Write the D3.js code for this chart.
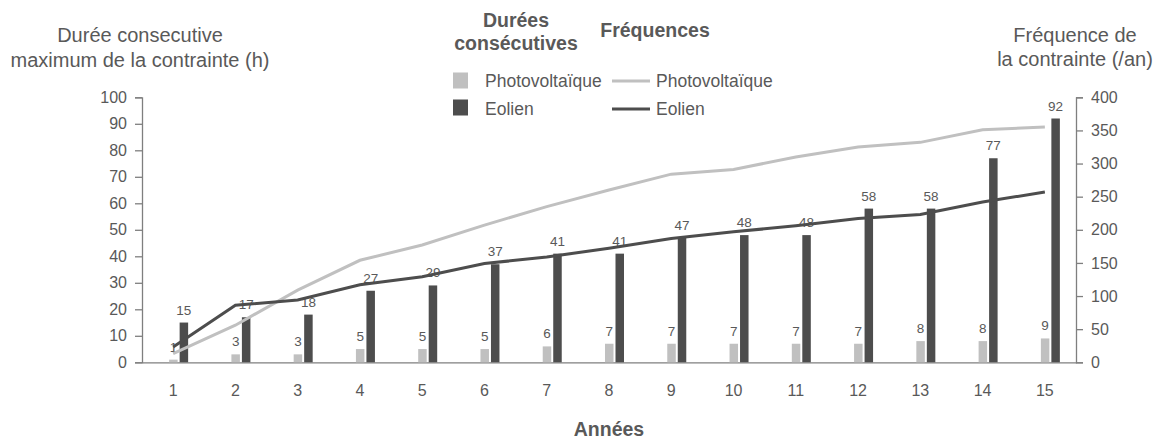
<!DOCTYPE html>
<html><head><meta charset="utf-8">
<script src="https://cdn.jsdelivr.net/npm/d3@7"></script>
<style>body{margin:0;background:#fff;} text{font-family:"Liberation Sans",Arial,sans-serif;}</style>
</head><body>
<svg id="c" width="1163" height="439"></svg>
<script>
const years = ["1","2","3","4","5","6","7","8","9","10","11","12","13","14","15"];
const dureePV = [1,3,3,5,5,5,6,7,7,7,7,7,8,8,9];
const dureeEol = [15,17,18,27,29,37,41,41,47,48,48,58,58,77,92];
const freqPV = [13,56,109,154,177,207,235,260,284,291,310,325,332,351,355];
const freqEol = [23,86,94,117,129,149,159,172,187,197,206,217,223,242,257];
const leftTicks = [0,10,20,30,40,50,60,70,80,90,100];
const rightTicks = [0,50,100,150,200,250,300,350,400];

const txt = "#595959", axisC = "#7f7f7f", dark = "#4d4d4d", light = "#c0c0c0";
const svg = d3.select("#c");
const L = 142, R = 1076, T = 97.3, B = 362.3;
const x = d3.scaleBand().domain(years).range([L, R]);
const yL = d3.scaleLinear().domain([0,100]).range([B, T]);
const yR = d3.scaleLinear().domain([0,400]).range([B, T]);
const c = d => x(d) + x.bandwidth()/2;
const FF = '"Liberation Sans",Arial,sans-serif';

// axes
const gl = svg.append("g").attr("transform", `translate(${L},0)`)
  .call(d3.axisLeft(yL).tickValues(leftTicks).tickSize(7).tickPadding(8));
const gr = svg.append("g").attr("transform", `translate(${R},0)`)
  .call(d3.axisRight(yR).tickValues(rightTicks).tickSize(7).tickPadding(8));
[gl, gr].forEach(g => {
  g.select(".domain").attr("stroke", axisC).attr("stroke-width", 1.3);
  g.selectAll(".tick line").attr("stroke", axisC).attr("stroke-width", 1.3);
  g.selectAll(".tick text").attr("fill", txt).style("font-size", "16px").style("font-family", FF);
});
const gx = svg.append("g").attr("transform", `translate(0,${B})`)
  .call(d3.axisBottom(x).tickSize(0).tickPadding(22));
gx.select(".domain").attr("stroke", axisC).attr("stroke-width", 1.3);
gx.selectAll(".tick text").attr("fill", txt).style("font-size", "16px").style("font-family", FF);

// bars
const bw = 8.5;
svg.append("g").selectAll("rect").data(years).join("rect")
  .attr("x", d => c(d) - 4).attr("width", bw)
  .attr("y", (d,i) => yL(dureePV[i])).attr("height", (d,i) => B - yL(dureePV[i]))
  .attr("fill", light);
svg.append("g").selectAll("rect").data(years).join("rect")
  .attr("x", d => c(d) + 6.5).attr("width", bw)
  .attr("y", (d,i) => yL(dureeEol[i])).attr("height", (d,i) => B - yL(dureeEol[i]))
  .attr("fill", dark);

// bar labels
svg.append("g").selectAll("text").data(years).join("text")
  .attr("x", d => c(d) - 4 + bw/2).attr("y", (d,i) => yL(dureePV[i]) - 8)
  .attr("text-anchor", "middle").attr("fill", txt).style("font-size", "13.5px")
  .text((d,i) => dureePV[i]);
svg.append("g").selectAll("text").data(years).join("text")
  .attr("x", d => c(d) + 6.5 + bw/2).attr("y", (d,i) => yL(dureeEol[i]) - 8)
  .attr("text-anchor", "middle").attr("fill", txt).style("font-size", "13.5px")
  .text((d,i) => dureeEol[i]);

// lines
const line = arr => d3.line().x((d,i) => c(years[i])).y(d => yR(d))(arr);
svg.append("path").attr("d", line(freqPV)).attr("fill", "none")
  .attr("stroke", light).attr("stroke-width", 3);
svg.append("path").attr("d", line(freqEol)).attr("fill", "none")
  .attr("stroke", dark).attr("stroke-width", 3);

// axis titles
const t = (xx, yy, s, o = {}) => svg.append("text").attr("x", xx).attr("y", yy)
  .attr("text-anchor", o.anchor || "middle").attr("fill", o.fill || txt)
  .style("font-size", (o.size || 20) + "px").style("font-weight", o.bold ? "bold" : "normal").text(s);
t(140, 42, "Durée consecutive");
t(140, 67, "maximum de la contrainte (h)");
t(1075, 42, "Fréquence de");
t(1075, 66, "la contrainte (/an)");
t(609, 436, "Années", {bold: true, size: 19.5});

// legend
t(516, 27, "Durées", {bold: true, size: 19.5});
t(516, 50, "consécutives", {bold: true, size: 19.5});
t(655, 37, "Fréquences", {bold: true, size: 19.5});
svg.append("rect").attr("x", 453).attr("y", 72.5).attr("width", 15).attr("height", 16).attr("fill", light);
svg.append("rect").attr("x", 453).attr("y", 99.5).attr("width", 15).attr("height", 16).attr("fill", dark);
t(485, 87, "Photovoltaïque", {anchor: "start", size: 17.5});
t(485, 115, "Eolien", {anchor: "start", size: 17.5});
svg.append("line").attr("x1", 612).attr("x2", 650).attr("y1", 81).attr("y2", 81).attr("stroke", light).attr("stroke-width", 3);
svg.append("line").attr("x1", 612).attr("x2", 650).attr("y1", 109).attr("y2", 109).attr("stroke", dark).attr("stroke-width", 3);
t(656, 87, "Photovoltaïque", {anchor: "start", size: 17.5});
t(656, 115, "Eolien", {anchor: "start", size: 17.5});
</script>
</body></html>
